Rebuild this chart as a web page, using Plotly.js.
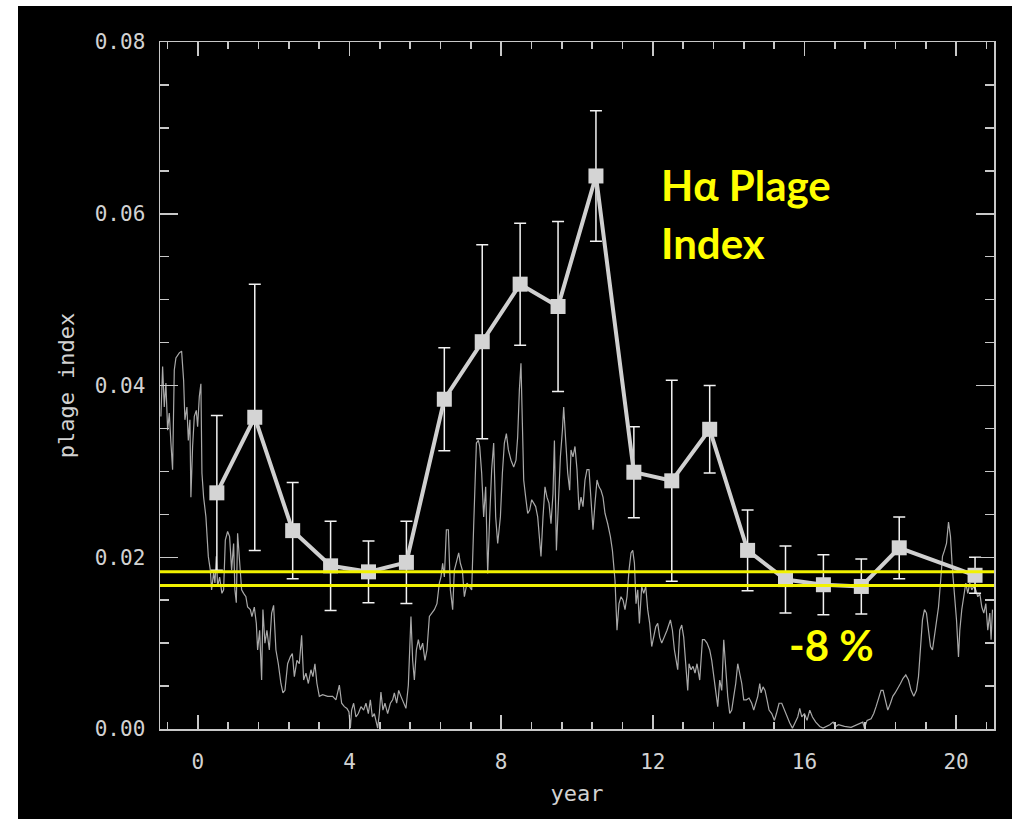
<!DOCTYPE html>
<html>
<head>
<meta charset="utf-8">
<script src="https://cdn.plot.ly/plotly-3.0.1.min.js"></script>
<style>
  html, body { margin: 0; padding: 0; background: #ffffff; width: 1012px; height: 819px; overflow: hidden; }
  #chart { position: absolute; left: 18px; top: 6px; width: 994px; height: 813px; }
</style>
</head>
<body>
<div id="chart"></div>
<script>
// Yearly H-alpha plage index with 1-sigma errors
const plageYear  = [0.5, 1.5, 2.5, 3.5, 4.5, 5.5, 6.5, 7.5, 8.5, 9.5, 10.5, 11.5, 12.5, 13.5, 14.5, 15.5, 16.5, 17.5, 18.5, 20.5];
const plageValue = [0.0275, 0.0363, 0.0231, 0.0190, 0.0183, 0.0194, 0.0384, 0.0451, 0.0518, 0.0492, 0.0644, 0.0299, 0.0289, 0.0349, 0.0208, 0.0174, 0.0168, 0.0166, 0.0211, 0.0179];
const plageError = [0.0090, 0.0155, 0.0056, 0.0052, 0.0036, 0.0048, 0.0060, 0.0113, 0.0071, 0.0099, 0.0076, 0.0053, 0.0117, 0.0051, 0.0047, 0.0039, 0.0035, 0.0032, 0.0036, 0.0021];

// Minimum levels of the two cycles (about -8 %)
const minimumLevels = [0.0183, 0.0167];

// Monthly activity curve drawn behind the yearly index: [year, value]
const activityCurve = [
  [-0.976,0.0364],[-0.931,0.0422],[-0.887,0.0375],[-0.844,0.0403],[-0.799,0.0348],[-0.755,0.0368],[-0.712,0.0333],[-0.668,0.0302],
  [-0.623,0.0418],[-0.580,0.0432],[-0.491,0.0438],[-0.430,0.0440],[-0.377,0.0406],[-0.343,0.0360],[-0.290,0.0375],[-0.253,0.0336],
  [-0.211,0.0360],[-0.185,0.0270],[-0.140,0.0329],[-0.095,0.0364],[-0.042,0.0371],[-0.008,0.0352],[0.037,0.0387],[0.079,0.0402],
  [0.106,0.0298],[0.150,0.0270],[0.211,0.0247],[0.274,0.0201],[0.327,0.0185],[0.361,0.0162],[0.414,0.0182],[0.449,0.0170],
  [0.485,0.0201],[0.520,0.0166],[0.573,0.0177],[0.633,0.0158],[0.678,0.0162],[0.723,0.0220],[0.784,0.0230],[0.836,0.0224],
  [0.889,0.0185],[0.942,0.0216],[0.976,0.0162],[1.013,0.0147],[1.047,0.0228],[1.100,0.0193],[1.153,0.0162],[1.206,0.0158],
  [1.266,0.0154],[1.311,0.0142],[1.383,0.0139],[1.425,0.0131],[1.488,0.0142],[1.541,0.0123],[1.575,0.0092],[1.628,0.0115],
  [1.681,0.0057],[1.715,0.0139],[1.768,0.0100],[1.821,0.0115],[1.884,0.0092],[1.945,0.0135],[1.997,0.0144],[2.058,0.0092],
  [2.121,0.0076],[2.190,0.0053],[2.243,0.0042],[2.296,0.0045],[2.367,0.0076],[2.438,0.0084],[2.491,0.0088],[2.544,0.0061],
  [2.612,0.0080],[2.675,0.0076],[2.736,0.0109],[2.789,0.0057],[2.850,0.0065],[2.913,0.0053],[2.982,0.0069],[3.034,0.0061],
  [3.087,0.0076],[3.140,0.0053],[3.203,0.0038],[3.290,0.0040],[3.422,0.0038],
  [3.554,0.0038],[3.641,0.0034],[3.731,0.0051],[3.792,0.0030],[3.863,0.0026],[3.931,0.0024],[3.984,0.0020],[4.021,0.0001],
  [4.055,0.0022],[4.108,0.0030],[4.169,0.0014],[4.232,0.0018],[4.301,0.0026],[4.372,0.0022],[4.433,0.0030],[4.496,0.0018],
  [4.549,0.0034],[4.602,0.0014],[4.654,0.0018],[4.697,0.0010],[4.741,0.0001],[4.786,0.0018],[4.828,0.0043],[4.881,0.0022],
  [4.934,0.0030],[5.005,0.0018],[5.077,0.0030],[5.137,0.0034],[5.182,0.0042],[5.243,0.0030],[5.296,0.0045],[5.356,0.0038],
  [5.427,0.0030],[5.488,0.0024],[5.551,0.0051],[5.586,0.0092],[5.620,0.0131],[5.665,0.0080],[5.710,0.0057],[5.763,0.0092],
  [5.815,0.0104],[5.868,0.0092],[5.929,0.0100],[5.989,0.0080],[6.042,0.0092],[6.106,0.0131],[6.166,0.0135],[6.237,0.0139],
  [6.306,0.0146],[6.369,0.0170],[6.412,0.0177],[6.456,0.0193],[6.501,0.0177],[6.554,0.0232],[6.607,0.0232],[6.660,0.0162],
  [6.720,0.0139],[6.765,0.0185],[6.834,0.0197],[6.879,0.0205],[6.923,0.0193],[6.976,0.0185],[7.029,0.0154],[7.098,0.0170],
  [7.161,0.0166],[7.222,0.0162],[7.274,0.0236],[7.309,0.0278],[7.346,0.0333],[7.398,0.0336],[7.433,0.0329],[7.485,0.0298],
  [7.538,0.0247],[7.591,0.0282],[7.644,0.0181],[7.697,0.0247],[7.749,0.0302],[7.802,0.0333],[7.855,0.0247],[7.908,0.0216],
  [7.979,0.0247],[8.032,0.0298],[8.084,0.0333],[8.137,0.0344],[8.190,0.0325],[8.259,0.0313],[8.330,0.0305],[8.391,0.0313],
  [8.435,0.0340],[8.480,0.0395],[8.522,0.0426],[8.559,0.0356],[8.594,0.0290],[8.646,0.0270],[8.699,0.0251],[8.752,0.0255],
  [8.805,0.0267],[8.858,0.0263],[8.910,0.0259],[8.963,0.0247],[9.016,0.0224],[9.050,0.0201],[9.103,0.0247],[9.156,0.0282],
  [9.208,0.0270],[9.261,0.0263],[9.314,0.0239],[9.367,0.0274],[9.404,0.0336],[9.457,0.0208],[9.509,0.0263],[9.562,0.0317],
  [9.615,0.0348],[9.649,0.0375],[9.702,0.0336],[9.755,0.0298],[9.807,0.0278],[9.842,0.0325],[9.894,0.0317],[9.947,0.0329],
  [10.000,0.0302],[10.053,0.0255],[10.106,0.0270],[10.158,0.0259],[10.211,0.0290],[10.264,0.0302],[10.317,0.0302],[10.369,0.0263],
  [10.422,0.0232],[10.475,0.0263],[10.528,0.0290],[10.580,0.0282],[10.633,0.0278],[10.686,0.0270],[10.739,0.0251],[10.810,0.0239],
  [10.881,0.0224],[10.934,0.0208],[10.968,0.0185],[11.003,0.0173],[11.055,0.0115],[11.108,0.0146],[11.161,0.0154],[11.214,0.0150],
  [11.266,0.0139],[11.319,0.0154],[11.372,0.0185],[11.425,0.0205],[11.470,0.0208],[11.515,0.0193],[11.557,0.0146],[11.602,0.0162],
  [11.646,0.0123],[11.707,0.0166],[11.760,0.0158],[11.813,0.0166],[11.865,0.0139],[11.918,0.0123],[11.971,0.0096],[12.024,0.0107],
  [12.077,0.0119],[12.129,0.0123],[12.182,0.0107],[12.235,0.0100],[12.306,0.0107],[12.375,0.0115],
  [12.464,0.0127],[12.517,0.0115],[12.570,0.0092],[12.623,0.0076],[12.657,0.0069],[12.710,0.0115],[12.763,0.0121],[12.815,0.0107],
  [12.868,0.0076],[12.921,0.0045],[12.955,0.0076],[13.008,0.0069],[13.061,0.0073],[13.113,0.0065],[13.166,0.0076],[13.237,0.0057],
  [13.309,0.0104],[13.362,0.0104],[13.430,0.0100],[13.501,0.0092],[13.554,0.0080],[13.607,0.0061],[13.660,0.0045],[13.712,0.0026],
  [13.765,0.0057],[13.818,0.0045],[13.871,0.0104],[13.923,0.0065],[13.976,0.0038],[14.029,0.0018],[14.082,0.0022],[14.135,0.0038],
  [14.187,0.0053],[14.240,0.0076],[14.293,0.0065],[14.346,0.0053],[14.398,0.0034],[14.470,0.0034],[14.538,0.0036],[14.609,0.0030],
  [14.662,0.0022],[14.715,0.0030],[14.768,0.0038],[14.821,0.0053],[14.855,0.0042],[14.908,0.0049],[14.960,0.0045],[15.013,0.0034],
  [15.066,0.0022],[15.137,0.0018],[15.208,0.0010],[15.261,0.0018],[15.330,0.0030],[15.401,0.0030],[15.472,0.0022],[15.541,0.0014],
  [15.612,0.0007],[15.683,0.0001],[15.752,0.0007],[15.823,0.0014],[15.876,0.0024],[15.929,0.0014],[16.000,0.0018],[16.069,0.0010],
  [16.140,0.0022],[16.211,0.0014],[16.298,0.0008],[16.404,0.0003],[16.491,0.0001],[16.580,0.0003],[16.668,0.0005],[16.755,0.0008],
  [16.826,0.0003],
  [16.897,0.0005],[17.055,0.0003],[17.230,0.0002],[17.406,0.0005],[17.538,0.0008],[17.583,0.0001],[17.652,0.0010],[17.757,0.0012],
  [17.828,0.0018],[17.889,0.0026],[17.953,0.0034],[18.021,0.0045],[18.074,0.0045],[18.127,0.0034],[18.198,0.0022],[18.269,0.0030],
  [18.330,0.0038],[18.391,0.0042],[18.462,0.0047],[18.533,0.0053],[18.602,0.0059],[18.673,0.0063],[18.744,0.0057],[18.813,0.0045],
  [18.884,0.0038],[18.955,0.0045],[19.008,0.0061],[19.061,0.0092],[19.113,0.0127],[19.166,0.0139],[19.219,0.0135],[19.272,0.0115],
  [19.325,0.0096],[19.377,0.0092],[19.430,0.0107],[19.483,0.0123],[19.536,0.0142],[19.588,0.0170],[19.641,0.0201],[19.694,0.0208],
  [19.747,0.0216],[19.800,0.0241],[19.852,0.0224],[19.905,0.0185],[19.958,0.0154],[20.011,0.0127],[20.063,0.0084],[20.098,0.0115],
  [20.150,0.0139],[20.203,0.0158],[20.256,0.0170],[20.309,0.0158],[20.361,0.0170],[20.414,0.0162],[20.467,0.0166],[20.520,0.0162],
  [20.573,0.0154],[20.625,0.0158],[20.678,0.0142],[20.731,0.0135],[20.784,0.0146],[20.836,0.0115],[20.889,0.0135],[20.923,0.0104],
  [20.960,0.0139]
];

const xRange = [-1, 21];
const yRange = [0, 0.08];

const axisGray = '#c8c8c8';
const tickFont = { family: 'DejaVu Sans Mono, monospace', size: 21, color: '#d2d2d2' };
const titleFont = { family: 'DejaVu Sans Mono, monospace', size: 22, color: '#d2d2d2' };
const noteFont = { family: 'Lato, "Noto Sans", sans-serif', size: 42, color: '#ffff00', weight: 700 };

const traces = [
  {
    x: activityCurve.map(p => p[0]),
    y: activityCurve.map(p => p[1]),
    mode: 'lines',
    line: { color: '#a9a9a9', width: 1.2 },
    hoverinfo: 'skip'
  },
  {
    x: plageYear,
    y: plageValue,
    mode: 'lines+markers',
    line: { color: '#d0d0d0', width: 4 },
    marker: { symbol: 'square', size: 15, color: '#d4d4d4' },
    error_y: { type: 'data', array: plageError, visible: true, color: '#f2f2f2', thickness: 1.5, width: 6 }
  }
];

minimumLevels.forEach(level => {
  traces.push({
    x: xRange,
    y: [level, level],
    mode: 'lines',
    line: { color: '#f2f200', width: 3 },
    hoverinfo: 'skip'
  });
});

const layout = {
  width: 994,
  height: 813,
  paper_bgcolor: '#000000',
  plot_bgcolor: '#000000',
  margin: { l: 142, r: 18, t: 36, b: 90 },
  showlegend: false,
  xaxis: {
    range: xRange,
    tick0: 0,
    dtick: 4,
    ticks: 'inside',
    ticklen: 14,
    tickwidth: 1.5,
    tickcolor: axisGray,
    showline: true,
    linecolor: axisGray,
    linewidth: 1.5,
    mirror: 'ticks',
    showgrid: false,
    zeroline: false,
    tickfont: tickFont,
    ticklabelstandoff: 13,
    minor: { tick0: 0, dtick: 0.8, ticks: 'inside', ticklen: 7, tickwidth: 1.5, tickcolor: axisGray, showgrid: false },
    title: { text: 'year', font: titleFont, standoff: 13 }
  },
  yaxis: {
    range: yRange,
    tick0: 0,
    dtick: 0.02,
    tickformat: '.2f',
    ticks: 'inside',
    ticklen: 18,
    tickwidth: 1.5,
    tickcolor: axisGray,
    showline: true,
    linecolor: axisGray,
    linewidth: 1.5,
    mirror: 'ticks',
    showgrid: false,
    zeroline: false,
    tickfont: tickFont,
    ticklabelstandoff: 9,
    minor: { tick0: 0, dtick: 0.005, ticks: 'inside', ticklen: 9, tickwidth: 1.5, tickcolor: axisGray, showgrid: false },
    title: { text: 'plage index', font: titleFont, standoff: 14 }
  },
  annotations: [
    { text: 'Hα Plage', xref: 'paper', yref: 'paper', x: 0.598, y: 0.792, xanchor: 'left', yanchor: 'middle', showarrow: false, font: noteFont },
    { text: 'Index', xref: 'paper', yref: 'paper', x: 0.598, y: 0.707, xanchor: 'left', yanchor: 'middle', showarrow: false, font: noteFont },
    { text: '-8 %', xref: 'paper', yref: 'paper', x: 0.752, y: 0.122, xanchor: 'left', yanchor: 'middle', showarrow: false, font: noteFont }
  ]
};

Plotly.newPlot('chart', traces, layout, { displayModeBar: false, staticPlot: true });
</script>
</body>
</html>
